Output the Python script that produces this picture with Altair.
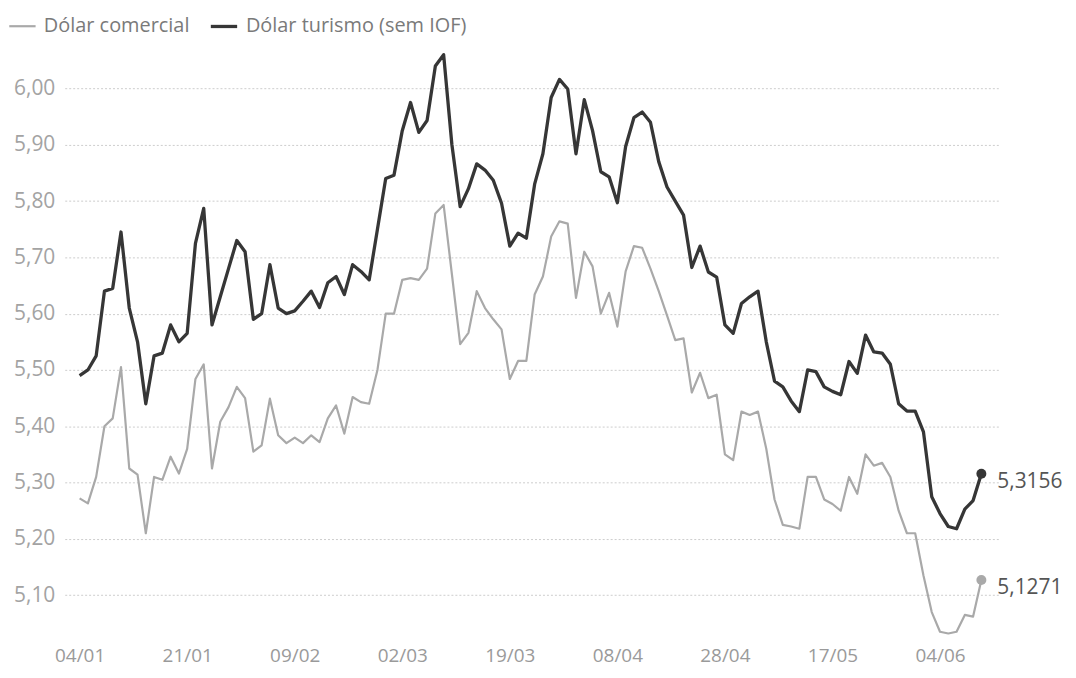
import json
import altair as alt
import pandas as pd

# --- Data (daily closes, 04/01 to 11/06) ---
comercial = [
    5.272, 5.263, 5.31, 5.40, 5.414, 5.505, 5.325, 5.314, 5.21, 5.31,
    5.305, 5.346, 5.316, 5.36, 5.484, 5.51, 5.325, 5.408, 5.434, 5.47,
    5.45, 5.355, 5.366, 5.449, 5.384, 5.37, 5.38, 5.37, 5.384, 5.372,
    5.414, 5.437, 5.387, 5.452, 5.443, 5.44, 5.50, 5.60, 5.60, 5.66,
    5.663, 5.66, 5.68, 5.778, 5.793, 5.67, 5.546, 5.566, 5.64, 5.61,
    5.59, 5.572, 5.484, 5.516, 5.516, 5.634, 5.666, 5.737, 5.764, 5.76,
    5.628, 5.71, 5.684, 5.60, 5.637, 5.577, 5.675, 5.72, 5.717, 5.68,
    5.64, 5.597, 5.553, 5.556, 5.46, 5.495, 5.45, 5.456, 5.35, 5.34,
    5.426, 5.42, 5.426, 5.36, 5.27, 5.225, 5.222, 5.218, 5.31, 5.31,
    5.27, 5.262, 5.25, 5.31, 5.28, 5.35, 5.33, 5.335, 5.31, 5.25,
    5.21, 5.21, 5.135, 5.07, 5.035, 5.032, 5.035, 5.065, 5.062, 5.1271,
]
turismo = [
    5.49, 5.50, 5.525, 5.64, 5.645, 5.745, 5.61, 5.55, 5.44, 5.525,
    5.53, 5.58, 5.55, 5.565, 5.725, 5.787, 5.58, 5.63, 5.68, 5.73,
    5.71, 5.59, 5.60, 5.687, 5.61, 5.60, 5.605, 5.622, 5.64, 5.611,
    5.655, 5.666, 5.634, 5.687, 5.675, 5.66, 5.75, 5.84, 5.846, 5.925,
    5.975, 5.922, 5.943, 6.04, 6.06, 5.90, 5.79, 5.822, 5.866, 5.855,
    5.837, 5.796, 5.72, 5.743, 5.734, 5.83, 5.884, 5.984, 6.016, 5.999,
    5.884, 5.98, 5.925, 5.852, 5.843, 5.797, 5.897, 5.948, 5.958, 5.94,
    5.87, 5.825, 5.80, 5.775, 5.682, 5.72, 5.674, 5.665, 5.58, 5.565,
    5.618, 5.63, 5.64, 5.55, 5.48, 5.47, 5.445, 5.426, 5.50, 5.497,
    5.47, 5.462, 5.456, 5.515, 5.494, 5.562, 5.532, 5.53, 5.51, 5.44,
    5.427, 5.427, 5.39, 5.275, 5.245, 5.222, 5.218, 5.253, 5.268, 5.3156,
]
feriados = ["2021-02-15", "2021-02-16", "2021-04-02", "2021-04-21", "2021-06-03"]
datas = [d.strftime("%d/%m") for d in
         pd.bdate_range("2021-01-04", "2021-06-11", freq="C", holidays=feriados)]
rotulos_x = ["04/01", "21/01", "09/02", "02/03", "19/03", "08/04", "28/04", "17/05", "04/06"]
rotulos_y = [5.1, 5.2, 5.3, 5.4, 5.5, 5.6, 5.7, 5.8, 5.9, 6.0]
series = ["Dólar comercial", "Dólar turismo (sem IOF)"]
cores = ["#a9a9a9", "#363636"]

n = min(len(datas), len(comercial), len(turismo))
datas = datas[:n]
rows = []
for nome, vals in zip(series, [comercial, turismo]):
    for i, (d, v) in enumerate(zip(datas, vals[:n])):
        rows.append({"i": i, "data": d, "serie": nome, "valor": v,
                     "rotulo": f"{v:.4f}".replace(".", ",")})
df = pd.DataFrame(rows)
ultimo = n - 1

tick_idx = [datas.index(r) for r in rotulos_x if r in datas]
label_expr_x = json.dumps(datas) + "[datum.value]"

FONT = "Open Sans"

x_enc = alt.X(
    "i:Q",
    scale=alt.Scale(domain=[-1.8, n - 1 + 2.05], nice=False, zero=False),
    axis=alt.Axis(values=tick_idx, labelExpr=label_expr_x, title=None,
                  domain=False, ticks=False, grid=False, labelPadding=12,
                  labelFontSize=19, labelFont=FONT, labelColor="#9a9a9a",
                  labelFlush=False, labelOverlap=False),
)
y_enc = alt.Y(
    "valor:Q",
    scale=alt.Scale(domain=[5.03, 6.08], nice=False, zero=False),
    axis=alt.Axis(values=rotulos_y,
                  labelExpr="replace(format(datum.value, '.2f'), '.', ',')",
                  title=None, domain=False, ticks=False, labelPadding=10,
                  labelFontSize=21, labelFont=FONT, labelColor="#a3a3a3",
                  grid=True, gridDash=[2, 2], gridColor="#cdcdcd", gridWidth=1),
)

linhas = alt.Chart(df).mark_line(strokeJoin="round").encode(
    x=x_enc,
    y=y_enc,
    color=alt.Color(
        "serie:N", scale=alt.Scale(domain=series, range=cores),
        legend=alt.Legend(title=None, orient="none", legendX=-57, legendY=-32,
                          direction="horizontal", symbolType="stroke",
                          symbolSize=700, symbolStrokeWidth=2.5,
                          labelFontSize=20, labelFont=FONT, labelColor="#7a7a7a",
                          labelOffset=7, columnPadding=14, labelLimit=500),
    ),
    strokeWidth=alt.StrokeWidth("serie:N",
                                scale=alt.Scale(domain=series, range=[2.2, 3.3]),
                                legend=None),
)

fim = alt.Chart(df).transform_filter(alt.datum.i == ultimo)

pontos = fim.mark_point(filled=True, size=100, opacity=1, shape="circle").encode(
    x=alt.X("i:Q"),
    y=alt.Y("valor:Q"),
    fill=alt.condition(alt.datum.serie == series[1], alt.value(cores[1]), alt.value(cores[0])),
    stroke=alt.value(None),
)

textos = fim.mark_text(align="left", baseline="middle", dx=16, dy=8,
                       fontSize=21, font=FONT, color="#555555").encode(
    x=alt.X("i:Q"),
    y=alt.Y("valor:Q"),
    text=alt.Text("rotulo:N"),
)

chart = alt.layer(linhas, pontos, textos).properties(
    width=938, height=594,
    padding={"left": 57, "top": 34, "right": 70, "bottom": 33},
    autosize=alt.AutoSizeParams(type="none"),
).configure_view(stroke=None)

chart.save("out.html", embed_options={"renderer": "svg", "actions": False})
